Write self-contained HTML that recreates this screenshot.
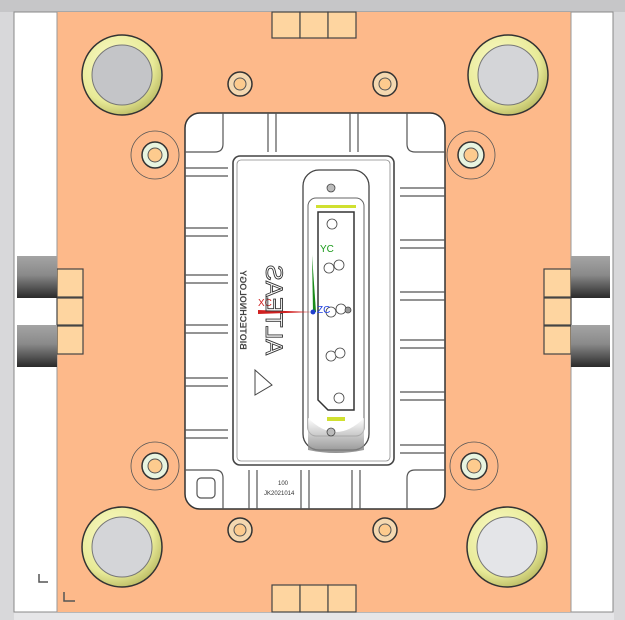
<!DOCTYPE html>
<html><head><meta charset="utf-8"><style>html,body{margin:0;padding:0;background:#e6e6e8}svg{display:block}</style></head>
<body>
<svg width="625" height="620" viewBox="0 0 625 620" xmlns="http://www.w3.org/2000/svg" font-family="Liberation Sans, sans-serif">
<defs>
<linearGradient id="dk" x1="0" y1="0" x2="0" y2="1"><stop offset="0" stop-color="#a4a4a4"/><stop offset="0.45" stop-color="#8a8a8a"/><stop offset="1" stop-color="#2a2a2a"/></linearGradient>
<radialGradient id="ring" cx="0.4" cy="0.35" r="0.7"><stop offset="0" stop-color="#fbfbc8"/><stop offset="0.7" stop-color="#e8ea98"/><stop offset="1" stop-color="#b8b860"/></radialGradient>
<linearGradient id="cup" x1="0" y1="0" x2="0" y2="1"><stop offset="0" stop-color="#fff"/><stop offset="1" stop-color="#777"/></linearGradient>
</defs>
<rect x="0" y="0" width="625" height="12" fill="#c6c6c8"/>
<rect x="0" y="12" width="14" height="608" fill="#d8d8da"/>
<rect x="613" y="12" width="12" height="608" fill="#d8d8da"/>
<rect x="14" y="612" width="600" height="8" fill="#e6e6e8"/>
<rect x="14" y="12" width="599" height="600" fill="#fff" stroke="#888" stroke-width="1"/>
<rect x="57" y="12" width="514" height="600" fill="#fdb98a"/>
<line x1="57" y1="12" x2="57" y2="612" stroke="#999"/>
<line x1="571" y1="12" x2="571" y2="612" stroke="#999"/>
<!-- top/bottom squares -->
<g fill="#fed5a0" stroke="#444" stroke-width="1.2">
<rect x="272" y="12" width="28" height="26"/><rect x="300" y="12" width="28" height="26"/><rect x="328" y="12" width="28" height="26"/>
<rect x="272" y="585" width="28" height="27"/><rect x="300" y="585" width="28" height="27"/><rect x="328" y="585" width="28" height="27"/>
<rect x="57" y="269" width="26" height="28"/><rect x="57" y="298" width="26" height="27"/><rect x="57" y="326" width="26" height="28"/>
<rect x="544" y="269" width="27" height="28"/><rect x="544" y="298" width="27" height="27"/><rect x="544" y="326" width="27" height="28"/>
</g>
<rect x="17" y="256" width="40" height="42" fill="url(#dk)"/>
<rect x="17" y="325" width="40" height="42" fill="url(#dk)"/>
<rect x="571" y="256" width="39" height="42" fill="url(#dk)"/>
<rect x="571" y="325" width="39" height="42" fill="url(#dk)"/>
<!-- big bosses -->
<g stroke="#333" stroke-width="1.5">
<circle cx="122" cy="75" r="40" fill="url(#ring)"/><circle cx="122" cy="75" r="30" fill="#c4c5c8" stroke="#777" stroke-width="1"/>
<circle cx="508" cy="75" r="40" fill="url(#ring)"/><circle cx="508" cy="75" r="30" fill="#d4d5d8" stroke="#777" stroke-width="1"/>
<circle cx="122" cy="547" r="40" fill="url(#ring)"/><circle cx="122" cy="547" r="30" fill="#d4d5d8" stroke="#777" stroke-width="1"/>
<circle cx="507" cy="547" r="40" fill="url(#ring)"/><circle cx="507" cy="547" r="30" fill="#e4e5e8" stroke="#777" stroke-width="1"/>
</g>
<!-- small bushings -->
<g>
<g fill="none" stroke="#555" stroke-width="0.8">
<circle cx="155" cy="155" r="24"/><circle cx="471" cy="155" r="24"/><circle cx="155" cy="466" r="24"/><circle cx="474" cy="466" r="24"/>
</g>
<g stroke="#333" stroke-width="1.5" fill="#e8f4e0">
<circle cx="155" cy="155" r="13"/><circle cx="471" cy="155" r="13"/><circle cx="155" cy="466" r="13"/><circle cx="474" cy="466" r="13"/>
<circle cx="240" cy="84" r="12" fill="#f4d8b0"/><circle cx="385" cy="84" r="12" fill="#f4d8b0"/><circle cx="240" cy="530" r="12" fill="#f4d8b0"/><circle cx="385" cy="530" r="12" fill="#f4d8b0"/>
</g>
<g fill="#fdcb8e" stroke="#555" stroke-width="1">
<circle cx="155" cy="155" r="7"/><circle cx="471" cy="155" r="7"/><circle cx="155" cy="466" r="7"/><circle cx="474" cy="466" r="7"/>
<circle cx="240" cy="84" r="6"/><circle cx="385" cy="84" r="6"/><circle cx="240" cy="530" r="6"/><circle cx="385" cy="530" r="6"/>
</g>
</g>
<!-- pocket -->
<rect x="185" y="113" width="260" height="396" rx="15" fill="#fff" stroke="#333" stroke-width="1.5"/>
<g fill="none" stroke="#555" stroke-width="1.2">
<path d="M185 152 H215 Q223 152 223 144 V113"/><path d="M445 152 H415 Q407 152 407 144 V113"/>
<path d="M185 470 H215 Q223 470 223 478 V509"/><path d="M445 470 H415 Q407 470 407 478 V509"/>
<path d="M268 113 V152 M276 113 V152 M350 113 V152 M358 113 V152"/>
<path d="M249 470 V509 M257 470 V509 M301 470 V509 M309 470 V509 M352 470 V509 M360 470 V509"/>
<path d="M185 168 H228 M185 176 H228 M185 228 H228 M185 236 H228 M185 275 H228 M185 283 H228 M185 325 H228 M185 333 H228 M185 378 H228 M185 386 H228 M185 430 H228 M185 438 H228"/>
<path d="M400 188 H445 M400 196 H445 M400 240 H445 M400 248 H445 M400 292 H445 M400 300 H445 M400 340 H445 M400 348 H445 M400 392 H445 M400 400 H445 M400 445 H445 M400 453 H445"/>
<rect x="197" y="478" width="18" height="20" rx="4"/>
</g>
<rect x="233" y="156" width="161" height="309" rx="7" fill="#fff" stroke="#444" stroke-width="1.6"/>
<rect x="237" y="160" width="153" height="301" rx="4" fill="none" stroke="#888" stroke-width="0.8"/>
<!-- slot -->
<rect x="303" y="170" width="66" height="280" rx="16" fill="#fff" stroke="#444" stroke-width="1.3"/>
<rect x="308" y="198" width="56" height="238" rx="8" fill="none" stroke="#666" stroke-width="1"/>
<path d="M308 418 Q336 446 364 418 L364 450 Q336 456 308 450Z" fill="url(#cup)" opacity="0.8"/>
<rect x="316" y="205" width="40" height="3" fill="#d0e030"/>
<rect x="327" y="417" width="18" height="4" fill="#d0e030"/>
<path d="M318 212 H354 V410 H328 L318 400 Z" fill="#fff" stroke="#333" stroke-width="1.5"/>
<g fill="#fff" stroke="#444" stroke-width="0.8">
<circle cx="332" cy="224" r="5"/><circle cx="329" cy="268" r="5"/><circle cx="339" cy="265" r="5"/>
<circle cx="331" cy="312" r="5"/><circle cx="341" cy="309" r="5"/><circle cx="331" cy="356" r="5"/><circle cx="340" cy="353" r="5"/><circle cx="339" cy="398" r="5"/>
<circle cx="331" cy="188" r="4" fill="#bbb"/><circle cx="331" cy="432" r="4" fill="#bbb"/><circle cx="348" cy="310" r="3" fill="#999"/>
</g>
<!-- coordinate axes -->
<polygon points="313,312 312,255 316,312" fill="#1a8a1a"/>
<polygon points="313,312 258,310 258,314" fill="#d02020"/>
<circle cx="313" cy="312" r="2.5" fill="#2040d0"/>
<text x="320" y="252" font-size="10" fill="#1a9a1a">YC</text>
<text x="258" y="306" font-size="10" fill="#d02020">XC</text>
<text x="317" y="313" font-size="10" fill="#2040e0">ZC</text>
<!-- mirrored logo text -->
<g transform="translate(258,310) rotate(90)">
<text x="0" y="0" text-anchor="middle" font-size="24" fill="none" stroke="#333" stroke-width="0.9" transform="scale(-1,1)" dy="-8">ALTEAS</text>
</g>
<g transform="translate(252,310) rotate(90)">
<text x="0" y="0" text-anchor="middle" font-size="9" font-weight="bold" fill="#444" transform="scale(-1,1)" dy="12">BIOTECHNOLOGY</text>
</g>
<path d="M255 370 L272 385 L255 395 Z" fill="none" stroke="#444" stroke-width="1"/>
<text x="278" y="485" font-size="6" fill="#333">100</text>
<text x="264" y="495" font-size="6" fill="#333">JK2021014</text>
<!-- L marks -->
<path d="M39 574 V582 H48" fill="none" stroke="#555" stroke-width="1.5"/>
<path d="M64 592 V601 H75" fill="none" stroke="#555" stroke-width="1.5"/>
</svg>
</body></html>
